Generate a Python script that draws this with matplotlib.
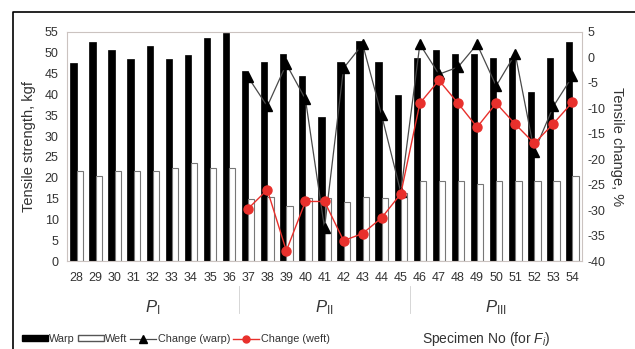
import numpy as np
import matplotlib
matplotlib.use("Agg")
import matplotlib.pyplot as plt
from matplotlib.lines import Line2D
from matplotlib.patches import Patch

# ── data ──────────────────────────────────────────────
specimens = list(range(28, 55))

warp = [47.5, 52.6, 50.7, 48.5, 51.6, 48.5, 49.5, 53.6, 54.8,
        45.6, 47.8, 49.7, 44.4, 34.5, 47.8, 52.8, 47.8, 39.8,
        48.7, 50.7, 49.7, 49.7, 48.7, 48.7, 40.5, 48.7, 52.6]

weft = [21.5, 20.3, 21.5, 21.5, 21.5, 22.4, 23.6, 22.4, 22.4,
        15.0, 15.4, 13.2, 15.2, 15.2, 14.2, 15.4, 15.2, 16.4,
        19.3, 19.3, 19.3, 18.6, 19.3, 19.3, 19.3, 19.3, 20.3]

# change curves only exist for specimens 37..54
change_spec = list(range(37, 55))
change_warp = [-3.9, -9.6, -1.3, -8.2, -33.5, -2.1, 2.6, -11.4, -26.5,
               2.6, -3.3, -1.9, 2.6, -5.6, 0.7, -18.5, -9.6, -3.7]
change_weft = [-29.7, -26.0, -38.0, -28.3, -28.3, -36.0, -34.6, -31.5, -26.8,
               -9.0, -4.5, -9.0, -13.7, -9.0, -13.1, -16.9, -13.0, -8.8]

groups = [r"$P_{\mathrm{I}}$", r"$P_{\mathrm{II}}$", r"$P_{\mathrm{III}}$"]
group_span = [(28, 36), (37, 45), (46, 54)]

# ── style ─────────────────────────────────────────────
plt.rcParams["font.family"] = ["Liberation Sans", "DejaVu Sans"]
plt.rcParams["axes.unicode_minus"] = False
plt.rcParams["mathtext.fontset"] = "custom"
plt.rcParams["mathtext.it"] = "Liberation Sans:italic"
plt.rcParams["mathtext.rm"] = "Liberation Sans"

TXT = "#333333"
W, H = 635, 349
fig = plt.figure(figsize=(W / 100, H / 100), dpi=100)
ax = fig.add_axes([67 / W, 1 - 261 / H, (582 - 67) / W, (261 - 32) / H])

x = np.arange(len(specimens))
bw = 0.33
ax.bar(x - bw / 2, warp, width=bw, color="black", edgecolor="black", linewidth=0.5, zorder=2)
ax.bar(x + bw / 2, weft, width=bw, color="white", edgecolor="#777777", linewidth=0.8, zorder=2)

ax.set_xlim(-0.5, len(specimens) - 0.5)
ax.set_ylim(0, 55)
ax.set_yticks(np.arange(0, 56, 5))
ax.set_xticks(x)
ax.set_xticklabels([str(s) for s in specimens])
ax.tick_params(axis="both", length=0, labelsize=9, colors=TXT)
ax.tick_params(axis="x", pad=8)
ax.tick_params(axis="y", pad=6)
ax.set_ylabel("Tensile strength, kgf", fontsize=10.5, color=TXT, labelpad=6)
for sp in ax.spines.values():
    sp.set_color("#cbc3c0")
    sp.set_linewidth(0.8)

# change curves on the right axis
ax2 = ax.twinx()
xc = np.array([specimens.index(s) for s in change_spec])
ax2.plot(xc, change_warp, color="#4a4a4a", linewidth=0.9, marker="^",
         markersize=7, markerfacecolor="black", markeredgecolor="black", zorder=3)
ax2.plot(xc, change_weft, color="#e8302c", linewidth=1.0, marker="o",
         markersize=6.5, markerfacecolor="#e8302c", markeredgecolor="#e8302c", zorder=4)
ax2.set_ylim(-40, 5)
ax2.set_yticks(np.arange(-40, 6, 5))
ax2.tick_params(axis="y", length=0, labelsize=9, colors=TXT, pad=4)
ax2.set_ylabel("Tensile change, %", fontsize=10.5, color=TXT,
               rotation=270, labelpad=13)
for sp in ax2.spines.values():
    sp.set_visible(False)

# group labels and separators under the specimen numbers
for name, (a, b) in zip(groups, group_span):
    xm = (specimens.index(a) + specimens.index(b)) / 2
    ax.text(xm, -11.2, name, ha="center", va="center", fontsize=12,
            color=TXT, clip_on=False)
for a in (37, 46):
    xs = specimens.index(a) - 0.5
    ax.plot([xs, xs], [-6.0, -12.5], color="#d0d0d0", linewidth=0.6, clip_on=False)

# legend along the bottom edge
handles = [
    Patch(facecolor="black", edgecolor="black"),
    Patch(facecolor="white", edgecolor="#555555"),
    Line2D([], [], color="#4a4a4a", linewidth=0.9, marker="^", markersize=6,
           markerfacecolor="black", markeredgecolor="black"),
    Line2D([], [], color="#e8302c", linewidth=1.0, marker="o", markersize=5,
           markerfacecolor="#e8302c", markeredgecolor="#e8302c"),
]
labels = ["Warp", "Weft", "Change (warp)", "Change (weft)"]
fig.legend(handles, labels, loc="lower left", bbox_to_anchor=(15 / W, -0.005),
           ncol=4, frameon=False, fontsize=7.8, handlelength=2.4, handleheight=0.45,
           handletextpad=0.15, columnspacing=0.25, borderaxespad=0.2,
           labelcolor=TXT)

fig.text(486 / W, 1 - 339 / H, r"Specimen No (for $F_{i}$)", ha="center",
         va="center", fontsize=10, color=TXT)

# outer frame (open towards the right and bottom)
fig.add_artist(Line2D([13 / W, 13 / W, 1.0], [0.0, 1 - 12 / H, 1 - 12 / H],
                      color="black", linewidth=1.2, transform=fig.transFigure))

fig.savefig("out.png", dpi=100, facecolor="white")
